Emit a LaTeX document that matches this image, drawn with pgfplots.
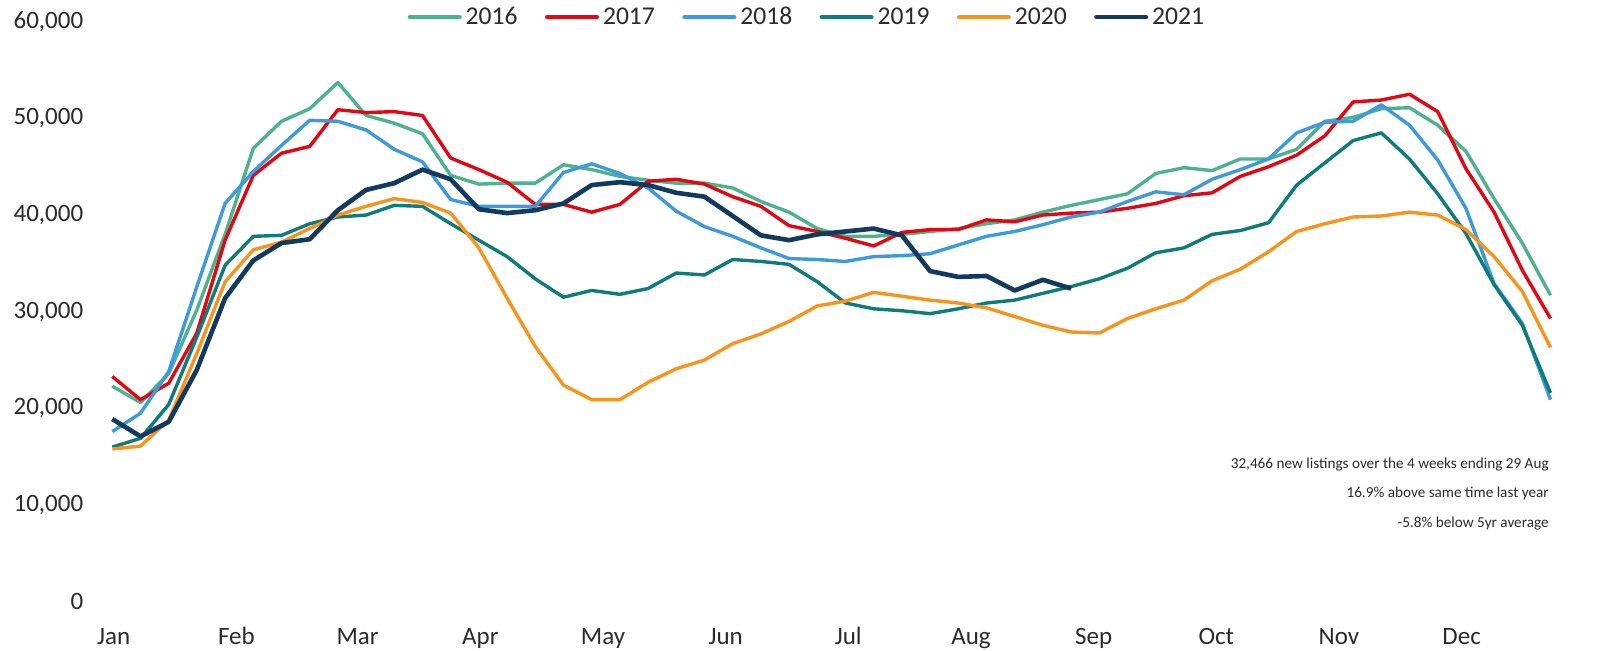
\documentclass[border=0pt]{standalone}
\usepackage{pgfplots}
\pgfplotsset{compat=1.18}
\usepackage{fontspec}
\setmainfont{Carlito}

\definecolor{c2016}{HTML}{4DB38E}
\definecolor{c2017}{HTML}{E30613}
\definecolor{c2018}{HTML}{3E9BDB}
\definecolor{c2019}{HTML}{0E7C7B}
\definecolor{c2020}{HTML}{F7941D}
\definecolor{c2021}{HTML}{123A5E}
\definecolor{txt}{HTML}{2B2B2B}

% weekly new listings (thousands), week 0 = first week of Jan
\begin{document}
\begin{tikzpicture}
\useasboundingbox (-56.15pt,-24.15pt) rectangle (744.85pt,300.85pt);
\begin{axis}[
  scale only axis,
  width=719.1pt, height=290pt,
  xmin=0, xmax=51, ymin=0, ymax=60,
  axis line style={draw=none},
  tick style={draw=none},
  ytick={0,10,20,30,40,50,60},
  yticklabels={0,{10,000},{20,000},{30,000},{40,000},{50,000},{60,000}},
  xtick={0.05,4.4,8.7,13.05,17.4,21.75,26.1,30.45,34.8,39.15,43.5,47.85},
  xticklabels={Jan,Feb,Mar,Apr,May,Jun,Jul,Aug,Sep,Oct,Nov,Dec},
  ticklabel style={font=\fontsize{12.5}{14}\selectfont, text=txt},
  yticklabel style={anchor=east, xshift=-11pt},
  xticklabel style={anchor=base, yshift=-21.6pt},
  every axis plot/.append style={line width=1.7pt, line join=round, mark=none},
  legend columns=-1,
  legend style={draw=none, fill=none, at={(0.4823,1.0076)}, anchor=center,
    font=\fontsize{12.8}{14}\selectfont, text=txt,
    nodes={inner sep=0pt},
    /tikz/every even column/.append style={column sep=13.7pt},
    /tikz/every odd column/.append style={column sep=2pt},
    inner sep=0pt},
  legend image code/.code={\draw[#1, line width=2pt, line cap=round] (1pt,0pt) -- (26pt,0pt);},
  clip=false,
]
\addplot[c2016] coordinates {
(0,22.3)(1,20.6)(2,23.6)(3,30.2)(4,38.0)(5,46.9)(6,49.7)(7,51.0)(8,53.7)(9,50.3)
(10,49.5)(11,48.4)(12,44.1)(13,43.2)(14,43.3)(15,43.3)(16,45.2)(17,44.7)(18,44.0)(19,43.6)
(20,43.3)(21,43.3)(22,42.8)(23,41.4)(24,40.3)(25,38.6)(26,37.8)(27,37.8)(28,38.0)(29,38.3)
(30,38.6)(31,39.1)(32,39.5)(33,40.3)(34,41.0)(35,41.6)(36,42.2)(37,44.3)(38,44.9)(39,44.6)
(40,45.8)(41,45.8)(42,46.8)(43,49.7)(44,50.1)(45,51.0)(46,51.1)(47,49.3)(48,46.6)(49,41.7)
(50,37.1)(51,31.7)};
\addlegendentry{2016}
\addplot[c2017] coordinates {
(0,23.3)(1,20.9)(2,22.6)(3,27.8)(4,37.4)(5,44.1)(6,46.4)(7,47.1)(8,50.9)(9,50.6)
(10,50.7)(11,50.3)(12,45.9)(13,44.7)(14,43.4)(15,41.1)(16,41.1)(17,40.3)(18,41.1)(19,43.5)
(20,43.7)(21,43.2)(22,41.9)(23,40.9)(24,38.9)(25,38.3)(26,37.6)(27,36.8)(28,38.2)(29,38.5)
(30,38.5)(31,39.5)(32,39.3)(33,40.0)(34,40.2)(35,40.3)(36,40.7)(37,41.2)(38,42.0)(39,42.3)
(40,44.0)(41,45.0)(42,46.2)(43,48.2)(44,51.7)(45,51.9)(46,52.5)(47,50.7)(48,44.8)(49,40.3)
(50,34.3)(51,29.3)};
\addlegendentry{2017}
\addplot[c2018] coordinates {
(0,17.6)(1,19.5)(2,23.8)(3,32.6)(4,41.2)(5,44.5)(6,47.2)(7,49.8)(8,49.7)(9,48.8)
(10,46.8)(11,45.5)(12,41.6)(13,40.9)(14,40.9)(15,40.9)(16,44.4)(17,45.3)(18,44.3)(19,42.8)
(20,40.4)(21,38.8)(22,37.8)(23,36.6)(24,35.5)(25,35.4)(26,35.2)(27,35.7)(28,35.8)(29,36.0)
(30,36.9)(31,37.8)(32,38.3)(33,39.0)(34,39.8)(35,40.3)(36,41.4)(37,42.4)(38,42.1)(39,43.7)
(40,44.7)(41,45.8)(42,48.5)(43,49.6)(44,49.7)(45,51.4)(46,49.3)(47,45.7)(48,40.7)(49,32.9)
(50,28.8)(51,20.9)};
\addlegendentry{2018}
\addplot[c2019] coordinates {
(0,16.0)(1,16.9)(2,20.4)(3,27.4)(4,34.8)(5,37.8)(6,37.9)(7,39.1)(8,39.8)(9,40.0)
(10,41.0)(11,40.9)(12,39.1)(13,37.4)(14,35.7)(15,33.4)(16,31.5)(17,32.2)(18,31.8)(19,32.4)
(20,34.0)(21,33.8)(22,35.4)(23,35.2)(24,34.9)(25,33.1)(26,30.9)(27,30.3)(28,30.1)(29,29.8)
(30,30.3)(31,30.9)(32,31.2)(33,31.9)(34,32.6)(35,33.4)(36,34.5)(37,36.1)(38,36.6)(39,38.0)
(40,38.4)(41,39.2)(42,43.1)(43,45.4)(44,47.7)(45,48.5)(46,45.8)(47,42.2)(48,38.1)(49,32.8)
(50,28.6)(51,21.6)};
\addlegendentry{2019}
\addplot[c2020] coordinates {
(0,15.8)(1,16.1)(2,18.8)(3,25.7)(4,33.1)(5,36.4)(6,37.2)(7,38.6)(8,40.0)(9,40.9)
(10,41.7)(11,41.3)(12,40.2)(13,36.6)(14,31.4)(15,26.4)(16,22.4)(17,20.9)(18,20.9)(19,22.7)
(20,24.1)(21,25.0)(22,26.7)(23,27.7)(24,29.0)(25,30.6)(26,31.1)(27,32.0)(28,31.6)(29,31.2)
(30,30.9)(31,30.4)(32,29.5)(33,28.6)(34,27.9)(35,27.8)(36,29.3)(37,30.3)(38,31.2)(39,33.2)
(40,34.4)(41,36.2)(42,38.3)(43,39.1)(44,39.8)(45,39.9)(46,40.3)(47,40.0)(48,38.5)(49,35.7)
(50,32.1)(51,26.3)};
\addlegendentry{2020}
\addplot[c2021, line width=2.3pt] coordinates {
(0,18.9)(1,17.1)(2,18.6)(3,24.0)(4,31.4)(5,35.3)(6,37.1)(7,37.5)(8,40.5)(9,42.6)
(10,43.3)(11,44.7)(12,43.7)(13,40.6)(14,40.2)(15,40.5)(16,41.2)(17,43.1)(18,43.4)(19,43.1)
(20,42.3)(21,41.9)(22,39.9)(23,37.9)(24,37.4)(25,38.0)(26,38.3)(27,38.6)(28,37.9)(29,34.2)
(30,33.6)(31,33.7)(32,32.2)(33,33.3)(34,32.4)};
\addlegendentry{2021}
\node[anchor=base east, font=\fontsize{7.6}{9}\selectfont, text=txt, inner sep=0pt]
  at (rel axis cs:0.999,0.229) {32,466 new listings over the 4 weeks ending 29 Aug};
\node[anchor=base east, font=\fontsize{7.6}{9}\selectfont, text=txt, inner sep=0pt]
  at (rel axis cs:0.999,0.179) {16.9\% above same time last year};
\node[anchor=base east, font=\fontsize{7.6}{9}\selectfont, text=txt, inner sep=0pt]
  at (rel axis cs:0.999,0.128) {-5.8\% below 5yr average};
\end{axis}
\end{tikzpicture}
\end{document}
